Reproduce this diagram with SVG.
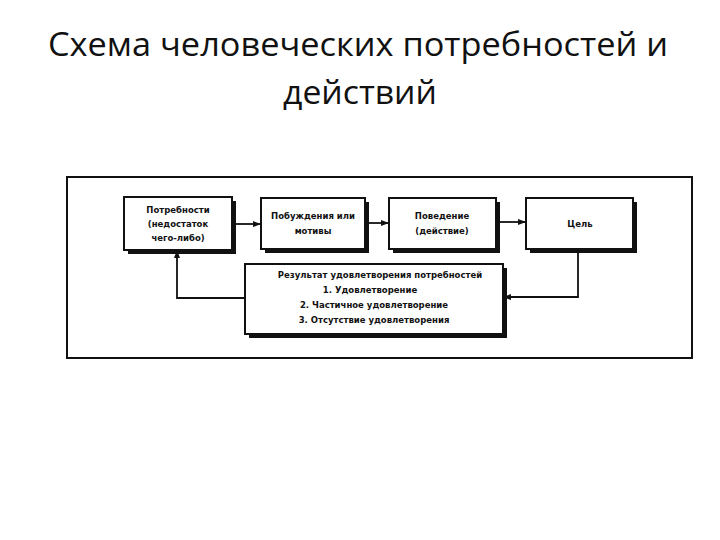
<svg xmlns="http://www.w3.org/2000/svg" width="720" height="540" viewBox="0 0 720 540">
<style>
.t{font-family:"Open Sans","Liberation Sans",Arial,sans-serif;font-size:33px;fill:#111;text-anchor:middle}
.b{fill:#fff;stroke:#111;stroke-width:2}
.s{fill:#111}
.l{font-family:"DejaVu Sans",sans-serif;font-size:8.5px;font-weight:bold;fill:#111;text-anchor:middle}
.c{fill:none;stroke:#111;stroke-width:1.8}
</style>
<defs><marker id="a" markerWidth="8" markerHeight="6" refX="7" refY="3" orient="auto" markerUnits="userSpaceOnUse"><path d="M0,0L8,3L0,6z" fill="#111"/></marker></defs>
<rect width="720" height="540" fill="#fff"/>
<text class="t" x="358" y="56" textLength="620" lengthAdjust="spacingAndGlyphs">Схема человеческих потребностей и</text>
<text class="t" x="360" y="104" textLength="154" lengthAdjust="spacingAndGlyphs">действий</text>
<rect x="67" y="177" width="625" height="181" fill="none" stroke="#111" stroke-width="2"/>
<g id="n1"><rect class="s" x="128" y="201" width="108" height="53"/><rect class="b" x="124" y="197" width="108" height="53"/>
<text class="l" x="178" y="213">Потребности</text><text class="l" x="178" y="227">(недостаток</text><text class="l" x="178" y="241">чего-либо)</text></g>
<g id="n2"><rect class="s" x="265" y="202" width="104" height="51"/><rect class="b" x="261" y="198" width="104" height="51"/>
<text class="l" x="313" y="219">Побуждения или</text><text class="l" x="313" y="234">мотивы</text></g>
<g id="n3"><rect class="s" x="393" y="202" width="107" height="51"/><rect class="b" x="389" y="198" width="107" height="51"/>
<text class="l" x="442" y="219">Поведение</text><text class="l" x="442" y="234">(действие)</text></g>
<g id="n4"><rect class="s" x="530" y="202" width="107" height="51"/><rect class="b" x="526" y="198" width="107" height="51"/>
<text class="l" x="580" y="227">Цель</text></g>
<g id="n5"><rect class="s" x="249" y="268" width="258" height="70"/><rect class="b" x="245" y="264" width="258" height="70"/>
<text class="l" x="380" y="278">Результат удовлетворения потребностей</text>
<text class="l" x="370" y="293">1. Удовлетворение</text>
<text class="l" x="374" y="308">2. Частичное удовлетворение</text>
<text class="l" x="374" y="323">3. Отсутствие удовлетворения</text></g>
<g id="connectors">
<path class="c" d="M232,224H260" marker-end="url(#a)"/>
<path class="c" d="M365,223H388" marker-end="url(#a)"/>
<path class="c" d="M496,222H525" marker-end="url(#a)"/>
<path class="c" d="M578,249V297H504" marker-end="url(#a)"/>
<path class="c" d="M245,298H177V251" marker-end="url(#a)"/>
</g>
</svg>
